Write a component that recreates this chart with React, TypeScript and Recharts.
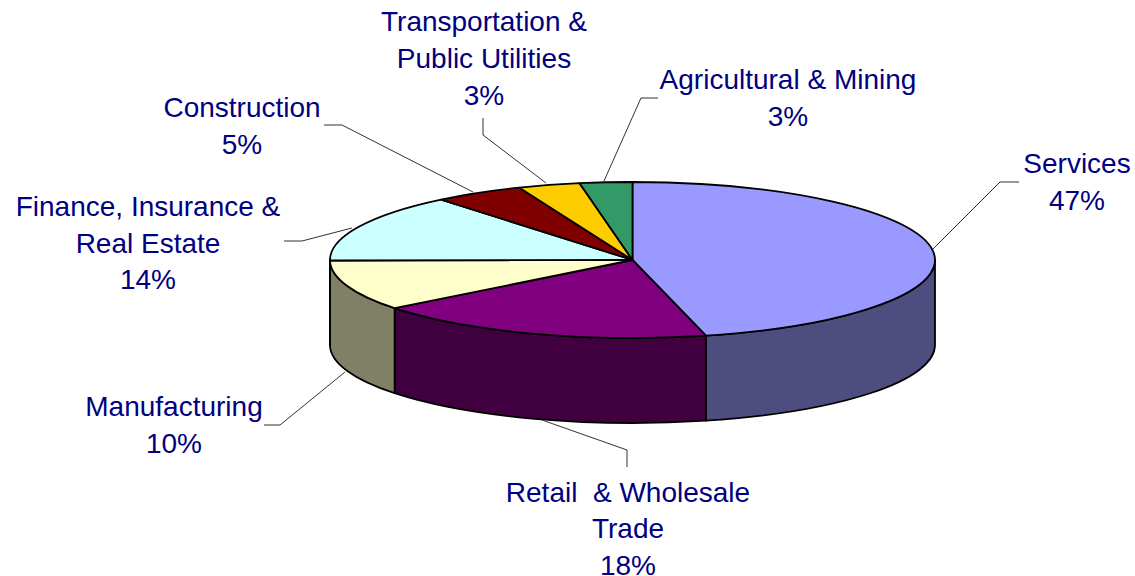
import React from 'react'
import { Cell, Pie, PieChart } from 'recharts';

// slice sizes as measured on the drawing, the printed percentages are kept apart
const categories = ["Services", "Retail & Wholesale Trade", "Manufacturing", "Finance, Insurance & Real Estate", "Construction", "Transportation & Public Utilities", "Agricultural & Mining"];
const sliceShares = [46.1, 18.3, 10.5, 14.2, 4.8, 3.3, 2.8];
const printedPercents = ["47%", "18%", "10%", "14%", "5%", "3%", "3%"];
const labelLines = [
    ["Services"],
    ["Retail  & Wholesale", "Trade"],
    ["Manufacturing"],
    ["Finance, Insurance &", "Real Estate"],
    ["Construction"],
    ["Transportation &", "Public Utilities"],
    ["Agricultural & Mining"],
];

const TOP_COLORS = ["#9999FF", "#800080", "#FFFFCC", "#CCFFFF", "#800000", "#FFCC00", "#339966"];
const WALL_COLORS = ["#4D4D80", "#400040", "#808066", "#668080", "#400000", "#806600", "#1A4D33"];

const CX = 632.5;
const CY = 260;
const RX = 302.5;
const RY = 78;
const DEPTH = 85;

// where each label sits and how its leader runs
const LABEL_LAYOUT = [
    { x: 1077, y: 172.8, leader: "933,249 1000,182 1019,182" },
    { x: 628, y: 501.5, leader: "542,420 627,450 627,467" },
    { x: 174, y: 416, leader: "345,372 280,425 264,425" },
    { x: 148, y: 216, leader: "352,228 302,241 284,241" },
    { x: 242, y: 117, leader: "473,192 342,125 324,125" },
    { x: 484, y: 31.3, leader: "546,183 483,135 483,118" },
    { x: 788, y: 89, leader: "604,181 641,98 658,98" },
];

const chartData = categories.map((name, i) => ({ name, value: sliceShares[i] }));

// t is degrees clockwise from the top of the disc
const onRim = (t: number, dy = 0) => {
    const rad = (t * Math.PI) / 180;
    return `${CX + RX * Math.sin(rad)} ${CY - RY * Math.cos(rad) + dy}`;
};

const EllipseSlice = (props: any) => {
    const { startAngle, endAngle, fill, index } = props;
    const t1 = 90 - startAngle;
    const t2 = 90 - endAngle;
    const large = t2 - t1 > 180 ? 1 : 0;
    const w1 = Math.max(t1, 90);
    const w2 = Math.min(t2, 270);
    return (
        <g>
            {w2 > w1 && (
                <path
                    d={`M${onRim(w1)} A${RX} ${RY} 0 0 1 ${onRim(w2)} L${onRim(w2, DEPTH)} A${RX} ${RY} 0 0 0 ${onRim(w1, DEPTH)} Z`}
                    fill={WALL_COLORS[index]}
                    stroke="#000"
                    strokeWidth={1.8}
                    strokeLinejoin="round"
                />
            )}
            <path
                d={`M${CX} ${CY} L${onRim(t1)} A${RX} ${RY} 0 ${large} 1 ${onRim(t2)} Z`}
                fill={fill}
                stroke="#000"
                strokeWidth={1.8}
                strokeLinejoin="round"
            />
        </g>
    );
};

const SliceLabel = ({ index }: any) => {
    const spot = LABEL_LAYOUT[index];
    const rows = [...labelLines[index], printedPercents[index]];
    return (
        <g>
            <polyline points={spot.leader} fill="none" stroke="#333" strokeWidth={1} />
            <text
                textAnchor="middle"
                fill="#000080"
                style={{ fontFamily: "'Liberation Sans', Arial, sans-serif", fontSize: 28 }}
            >
                {rows.map((row, i) => (
                    <tspan key={i} x={spot.x} y={spot.y + i * 36.7} style={{ whiteSpace: "pre" }} xmlSpace="preserve">
                        {row}
                    </tspan>
                ))}
            </text>
        </g>
    );
};

const App: React.FC = () => {
    return (
        <div style={{ position: "absolute", left: 0, top: 0, background: "#fff" }}>
            <PieChart width={1135} height={576} margin={{ top: 0, right: 0, bottom: 0, left: 0 }}>
                <Pie
                    data={chartData}
                    dataKey="value"
                    nameKey="name"
                    cx={CX}
                    cy={CY}
                    outerRadius={RX}
                    startAngle={90}
                    endAngle={-270}
                    paddingAngle={0}
                    shape={EllipseSlice}
                    label={SliceLabel}
                    labelLine={false}
                    isAnimationActive={false}
                >
                    {chartData.map((_, index) => (
                        <Cell key={`cell-${index}`} fill={TOP_COLORS[index]} />
                    ))}
                </Pie>
            </PieChart>
        </div>
    )
}

export default App
